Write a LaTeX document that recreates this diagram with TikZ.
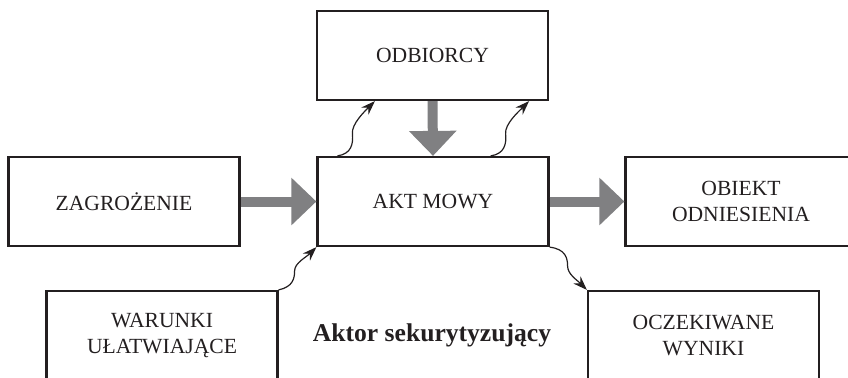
\documentclass[tikz,border=0pt]{standalone}
\usepackage{fontspec}
\setmainfont{Liberation Serif}
\usetikzlibrary{arrows.meta}

\definecolor{inkgray}{HTML}{231F20}
\definecolor{arrowgray}{HTML}{808082}

\tikzset{
  box/.style={draw=inkgray, line width=1.1pt, minimum width=115.5pt, minimum height=44.5pt,
    align=center, text=inkgray, font=\fontsize{10.8}{13}\selectfont},
  bigarrow/.style={draw=arrowgray, line width=5pt, -{Triangle[width=23pt,length=12.5pt]}},
  wavearrow/.style={draw=inkgray, line width=0.6pt, -{Stealth[length=7pt,width=5pt]}},
  actor/.style={text=inkgray, font=\fontsize{12.8}{15}\selectfont\bfseries}
}

\begin{document}
\begin{tikzpicture}[x=0.5pt,y=-0.5pt]

   \useasboundingbox (0,0) rectangle (848,377);
   \clip (0,0) rectangle (848,377);

   \node (Odbiorcy) at (432.5,55.5) [box] {ODBIORCY};
   \node (Akt-Mowy) at (433,201.5) [box] {AKT MOWY};
   \node (Zagrozenie) at (124,201.5) [box] {ZAGROŻENIE};
   \node (Obiekt-Odniesienia) at (741,201.5) [box] {OBIEKT\\ODNIESIENIA};

   \node (Warunki-Ulatwiajace) at (162,335.5) [box] {WARUNKI\\UŁATWIAJĄCE};
   \node (Oczekiwane-Wyniki) at (703.5,335.5) [box] {OCZEKIWANE\\WYNIKI};

   \node (Aktor-Sekurytyzujacy) at (432,335) [actor] {Aktor sekurytyzujący};

   \draw [bigarrow] (Zagrozenie.east) -- (Akt-Mowy.west);
   \draw [bigarrow] (Akt-Mowy.east) -- (Obiekt-Odniesienia.west);
   \draw [bigarrow] (Odbiorcy.south) -- (Akt-Mowy.north);

   % falowane strzalki
   \draw [wavearrow] ([xshift=10.5pt]Akt-Mowy.north west) .. controls +(14,-2) and +(1,10) .. ++(15,-22)
      .. controls +(-1,-10) and +(-10,10) .. ([xshift=29.5pt]Odbiorcy.south west);
   \draw [wavearrow] ([xshift=-29.5pt]Akt-Mowy.north east) .. controls +(14,-2) and +(1,10) .. ++(15,-22)
      .. controls +(-1,-10) and +(-10,10) .. ([xshift=-10pt]Odbiorcy.south east);
   \draw [wavearrow] (Warunki-Ulatwiajace.north east) .. controls +(14,-3) and +(0,8) .. ++(16,-19)
      .. controls +(0,-8) and +(-10,10) .. (Akt-Mowy.south west);
   \draw [wavearrow] (Akt-Mowy.south east) .. controls +(16,2) and +(0,-8) .. ++(18,19)
      .. controls +(0,8) and +(-10,-10) .. (Oczekiwane-Wyniki.north west);

\end{tikzpicture}
\end{document}
